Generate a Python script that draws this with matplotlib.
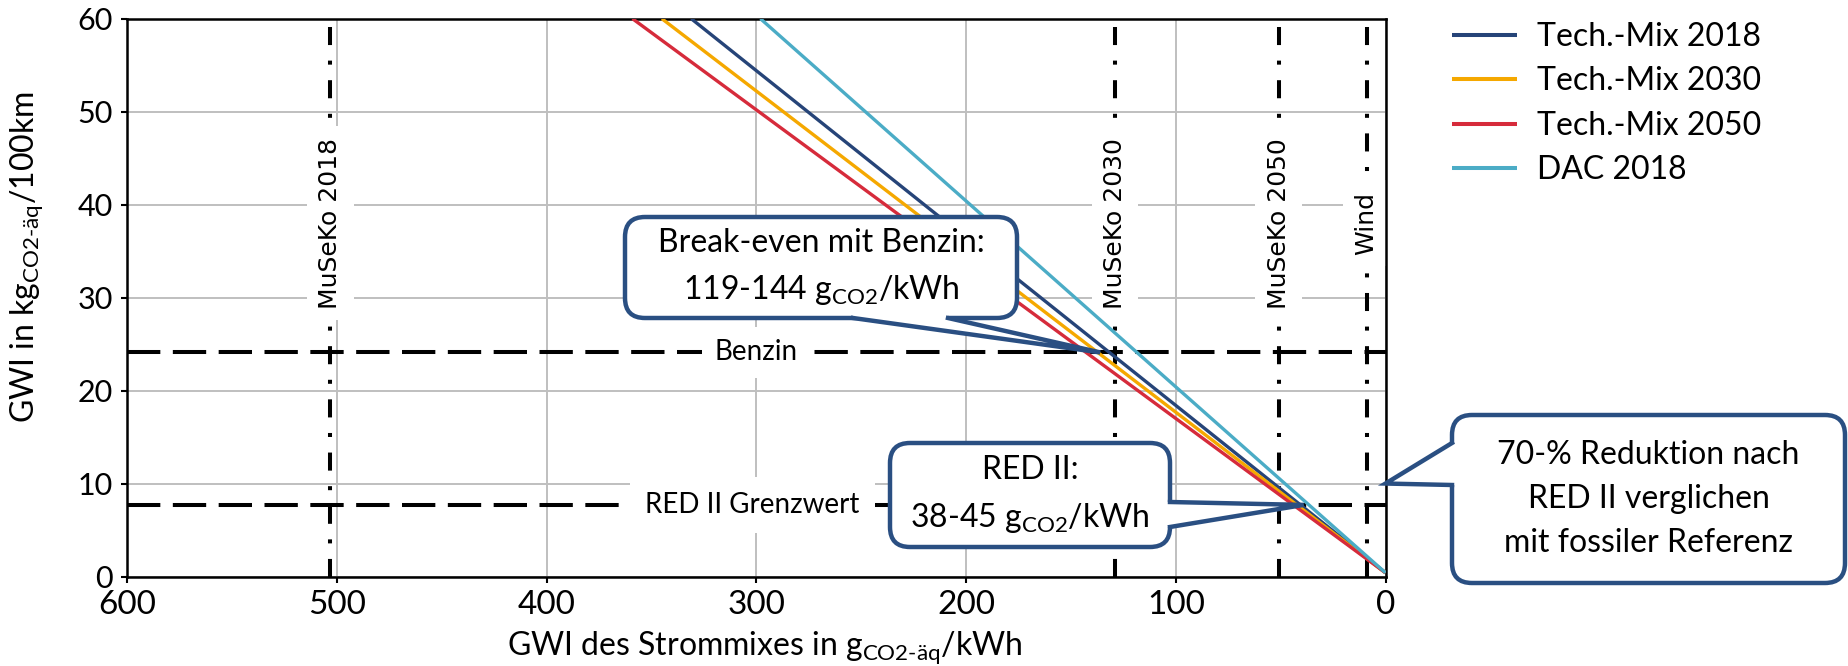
import matplotlib
matplotlib.use("Agg")
import matplotlib.pyplot as plt
from matplotlib.patches import FancyBboxPatch, Polygon
from matplotlib.lines import Line2D
from matplotlib.transforms import IdentityTransform, blended_transform_factory

W, H = 1848, 666

# --- data ---
series_labels = ["Tech.-Mix 2018", "Tech.-Mix 2030", "Tech.-Mix 2050", "DAC 2018"]
series_colors = ["#264478", "#f5a800", "#d62b3b", "#4bacc6"]
strom_at_top = [331, 345, 359, 298]   # g/kWh where each line leaves the plot at 60 kg/100km
gwi_top = 60
gwi_at_zero = 0.4                      # kg/100km at 0 g/kWh (all lines meet here)

mix_labels = ["MuSeKo 2018", "MuSeKo 2030", "MuSeKo 2050", "Wind"]
mix_values = [503, 129, 51, 9]
mix_label_y = 38

benzin_gwi = 24.1
red2_gwi = 7.7
red2_70_target = 10       # where the 70-% callout points on the right axis
breakeven_target = 136    # g/kWh, tip of the break-even callout
red2_target = 39          # g/kWh, tip of the RED II callout

plt.rcParams["font.family"] = ["Lato", "DejaVu Sans"]
plt.rcParams["mathtext.fontset"] = "custom"
plt.rcParams["mathtext.rm"] = "Lato"
plt.rcParams["mathtext.it"] = "Lato:italic"
plt.rcParams["mathtext.bf"] = "Lato:bold"
plt.rcParams["lines.scale_dashes"] = False

fig = plt.figure(figsize=(W / 100, H / 100), dpi=100)
ax = fig.add_axes([127 / W, 1 - 576.5 / H, (1385.5 - 127) / W, (576.5 - 18.7) / H])

ax.set_xlim(600, 0)
ax.set_ylim(0, 60)
ax.set_xticks(range(0, 601, 100))
ax.set_yticks(range(0, 61, 10))
ax.grid(True, color="#bfbfbf", lw=1.4)
ax.set_axisbelow(True)
for s in ax.spines.values():
    s.set_linewidth(1.8)
ax.tick_params(axis="both", direction="out", length=4, width=1.5)
ax.tick_params(axis="x", labelsize=24, pad=6)
ax.tick_params(axis="y", labelsize=22, pad=6)

# series
for lab, col, x_top in zip(series_labels, series_colors, strom_at_top):
    ax.plot([x_top, 0], [gwi_top, gwi_at_zero], color=col, lw=2.4, label=lab,
            zorder=3, solid_capstyle="butt")

# horizontal reference lines
dash = (0, (24, 9))
ax.axhline(benzin_gwi, color="black", lw=2.9, ls=dash, zorder=2)
ax.axhline(red2_gwi, color="black", lw=2.9, ls=dash, zorder=2)
ax.text(300, benzin_gwi, "Benzin", fontsize=20, ha="center", va="center", zorder=2.5,
        bbox=dict(boxstyle="square,pad=0.45", fc="white", ec="none"))
ax.text(302, red2_gwi, "RED II Grenzwert", fontsize=20, ha="center", va="center", zorder=2.5,
        bbox=dict(boxstyle="square,pad=0.55", fc="white", ec="none"))

# vertical electricity mix lines
dashdot = (0, (13, 11.2, 2.9, 11.2))
for lab, xv in zip(mix_labels, mix_values):
    ax.plot([xv, xv], [0, 60], color="black", lw=2.9, ls=dashdot, zorder=2,
            dash_capstyle="butt")
    ax.text(xv, mix_label_y, lab, rotation=90, family="DejaVu Sans", fontsize=18,
            ha="center", va="center", zorder=2.5,
            bbox=dict(boxstyle="square,pad=0.45", fc="white", ec="none"))

ax.set_xlabel(r"GWI des Strommixes in g$_{\mathrm{CO2\text{-}äq}}$/kWh", fontsize=23)
ax.xaxis.set_label_coords(0.507, -0.095)
ax.set_ylabel(r"GWI in kg$_{\mathrm{CO2\text{-}äq}}$/100km", fontsize=23)
ax.yaxis.set_label_coords(-0.065, 0.572)

leg = ax.legend(loc="upper left", bbox_to_anchor=(1452 / W, 1 - 22 / H),
                bbox_transform=fig.transFigure, frameon=False, fontsize=23,
                handlelength=2.03, handletextpad=0.63, labelspacing=0.45,
                borderpad=0, borderaxespad=0)
for ln in leg.get_lines():
    ln.set_linewidth(2.9)

# --- callouts (layout in image pixels, top-left origin) ---
blue = "#2a4f82"


def callout(box, base, inward, tip, text):
    x0, y0, x1, y1 = box
    r = 20
    lw = 3.2
    patch = FancyBboxPatch((x0 + r, H - y1 + r), (x1 - x0) - 2 * r, (y1 - y0) - 2 * r,
                           boxstyle=f"round,pad={r},rounding_size={r}",
                           transform=IdentityTransform(), fc="white", ec=blue,
                           lw=lw, zorder=10)
    fig.add_artist(patch)
    (bx1, by1), (bx2, by2) = base
    ix, iy = inward
    d = 6
    pts = [(bx1 + ix * d, H - (by1 + iy * d)), (bx1, H - by1), tuple(tip),
           (bx2, H - by2), (bx2 + ix * d, H - (by2 + iy * d))]
    fig.add_artist(Polygon(pts, closed=True, transform=IdentityTransform(),
                           fc="white", ec="none", zorder=11))
    fig.add_artist(Line2D([bx1, tip[0], bx2], [H - by1, tip[1], H - by2],
                          transform=IdentityTransform(), color=blue, lw=lw,
                          zorder=12, solid_joinstyle="miter"))
    fig.text((x0 + x1) / 2 / W, 1 - (y0 + y1) / 2 / H, text, ha="center", va="center",
             fontsize=23, linespacing=1.6, zorder=13)


tip_be = ax.transData.transform((breakeven_target, benzin_gwi))
tip_red = ax.transData.transform((red2_target, red2_gwi))
tip_70 = blended_transform_factory(ax.transAxes, ax.transData).transform((1, red2_70_target))

callout((625, 217, 1017, 318), [(853, 318), (948, 318)], (0, -1), tip_be,
        "Break-even mit Benzin:\n119-144 g$_{\\mathrm{CO2}}$/kWh")
callout((890, 443, 1170, 547), [(1170, 502), (1170, 527)], (-1, 0), tip_red,
        "RED II:\n38-45 g$_{\\mathrm{CO2}}$/kWh")
callout((1452, 415, 1845, 583), [(1452, 443), (1452, 485)], (1, 0), tip_70,
        "70-% Reduktion nach\nRED II verglichen\nmit fossiler Referenz")

fig.savefig("out.png", dpi=100)
